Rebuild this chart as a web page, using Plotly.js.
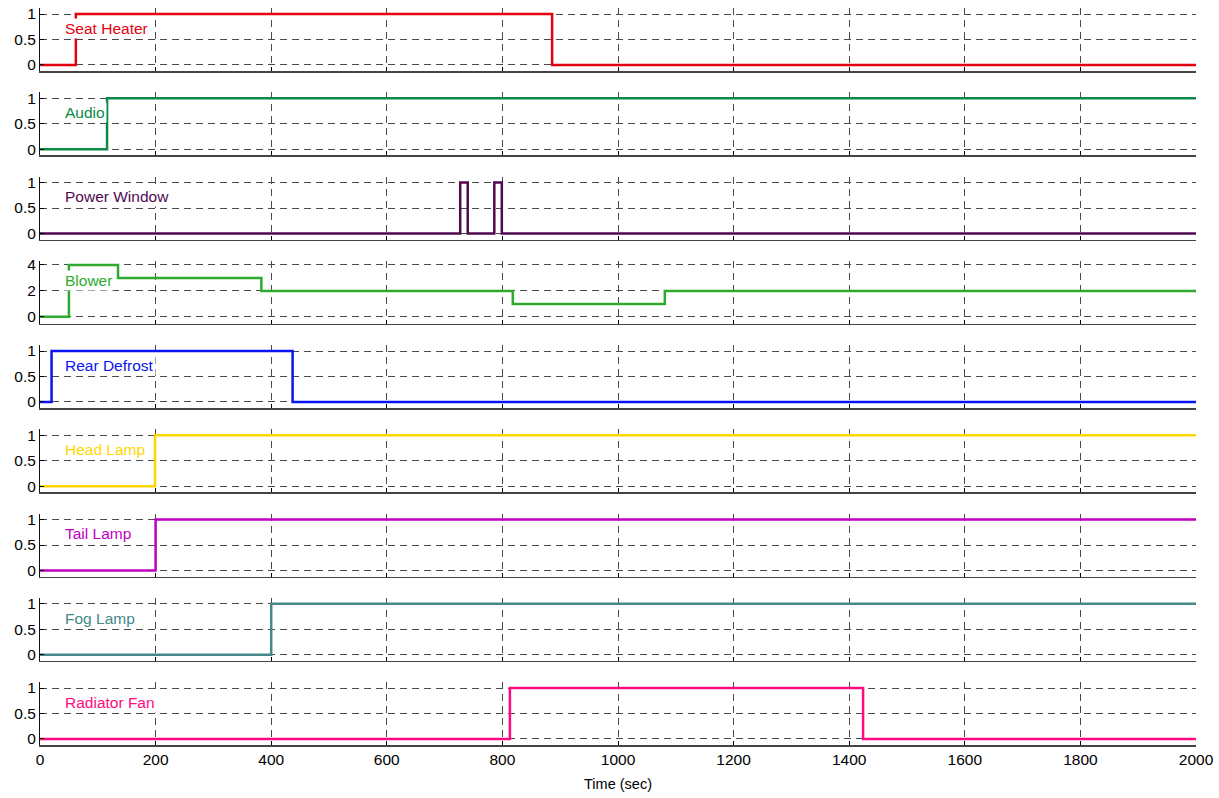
<!DOCTYPE html>
<html>
<head>
<meta charset="utf-8">
<script src="https://cdn.plot.ly/plotly-3.0.1.min.js"></script>
<style>html,body{margin:0;padding:0;background:#fff;}#chart{width:1219px;height:798px;}</style>
</head>
<body>
<div id="chart"></div>
<script>
// ---- data ----
var seriesNames = ["Seat Heater","Audio","Power Window","Blower","Rear Defrost","Head Lamp","Tail Lamp","Fog Lamp","Radiator Fan"];
var seatHeaterT = [0, 62, 886, 2000];
var seatHeaterV = [0, 1, 0, 0];
var audioT = [0, 116, 2000];
var audioV = [0, 1, 1];
var powerWindowT = [0, 727, 740, 786, 799, 2000];
var powerWindowV = [0, 1, 0, 1, 0, 0];
var blowerT = [0, 50, 135, 383, 818, 1081, 2000];
var blowerV = [0, 4, 3, 2, 1, 2, 2];
var rearDefrostT = [0, 20, 437, 2000];
var rearDefrostV = [0, 1, 0, 0];
var headLampT = [0, 199, 2000];
var headLampV = [0, 1, 1];
var tailLampT = [0, 200, 2000];
var tailLampV = [0, 1, 1];
var fogLampT = [0, 400, 2000];
var fogLampV = [0, 1, 1];
var radiatorFanT = [0, 813, 1424, 2000];
var radiatorFanV = [0, 1, 0, 0];
var xTicks = [0, 200, 400, 600, 800, 1000, 1200, 1400, 1600, 1800, 2000];
var binTicks = [0, 0.5, 1];
var binTickText = ["0", "0.5", "1"];
var blowerTicks = [0, 2, 4];

// ---- styling ----
var colors = ["#e3000f","#0a8a47","#500a50","#2eab2e","#0a14f0","#ffd700","#c000c0","#468787","#ff0a80"];
var allT = [seatHeaterT, audioT, powerWindowT, blowerT, rearDefrostT, headLampT, tailLampT, fogLampT, radiatorFanT];
var allV = [seatHeaterV, audioV, powerWindowV, blowerV, rearDefrostV, headLampV, tailLampV, fogLampV, radiatorFanV];

var plotBottomPx = 745;
var firstBottom = 71, pitch = (745 - 71) / 8, plotH = 63;
function frac(px) { return (plotBottomPx - px) / plotBottomPx; }

var traces = [], annotations = [];
var layout = {
  width: 1219, height: 798,
  margin: {l: 40, r: 23, t: 0, b: 798 - plotBottomPx},
  paper_bgcolor: "#fff", plot_bgcolor: "#fff",
  showlegend: false,
  font: {family: "Liberation Sans, Arial, sans-serif", size: 15, color: "#000"}
};
var gridStyle = {showgrid: true, gridcolor: "#4a4a4a", gridwidth: 1, griddash: "7px,5px"};

for (var i = 0; i < 9; i++) {
  var n = i + 1;
  var xa = "x" + (n === 1 ? "" : n), ya = "y" + (n === 1 ? "" : n);
  traces.push({
    x: allT[i], y: allV[i], xaxis: xa, yaxis: ya,
    type: "scatter", mode: "lines", line: {shape: "hv", color: colors[i], width: 2.5},
    hoverinfo: "skip"
  });
  var bottom = firstBottom + pitch * i;
  var isBlower = (i === 3);
  var yr = isBlower ? [-0.53, 4.32] : [-0.118, 1.118];
  layout["yaxis" + (n === 1 ? "" : n)] = Object.assign({
    domain: [frac(bottom), frac(bottom - plotH)],
    range: yr, anchor: xa, zeroline: false,
    tickmode: "array",
    tickvals: isBlower ? blowerTicks : binTicks,
    ticktext: isBlower ? blowerTicks.map(String) : binTickText,
    ticks: "inside", ticklen: 4, tickcolor: "#000",
    showline: true, linecolor: "#111", linewidth: 1,
    tickfont: {size: 15.5, color: "#000"}
  }, gridStyle);
  var xaObj = Object.assign({
    domain: [0, 1], range: [0, 2000], anchor: ya, zeroline: false,
    tickmode: "array", tickvals: xTicks,
    ticks: "inside", ticklen: 4, tickcolor: "#000",
    showline: true, linecolor: "#444", linewidth: 1.5,
    showticklabels: (i === 8),
    tickfont: {size: 15.5, color: "#000"}
  }, gridStyle);
  if (i === 8) {
    xaObj.title = {text: "Time (sec)", font: {size: 14.5, color: "#000"}, standoff: 12};
  }
  if (n !== 1) xaObj.matches = "x";
  layout["xaxis" + (n === 1 ? "" : n)] = xaObj;
  annotations.push({
    xref: xa, yref: ya, x: 40, y: isBlower ? 2.8 : 0.72,
    xanchor: "left", yanchor: "middle", showarrow: false,
    text: seriesNames[i], bgcolor: "#fff", borderpad: 1,
    font: {size: 15.5, color: colors[i], family: "Liberation Sans, Arial, sans-serif"}
  });
}
layout.annotations = annotations;

Plotly.newPlot("chart", traces, layout, {displayModeBar: false, staticPlot: true});
</script>
</body>
</html>
